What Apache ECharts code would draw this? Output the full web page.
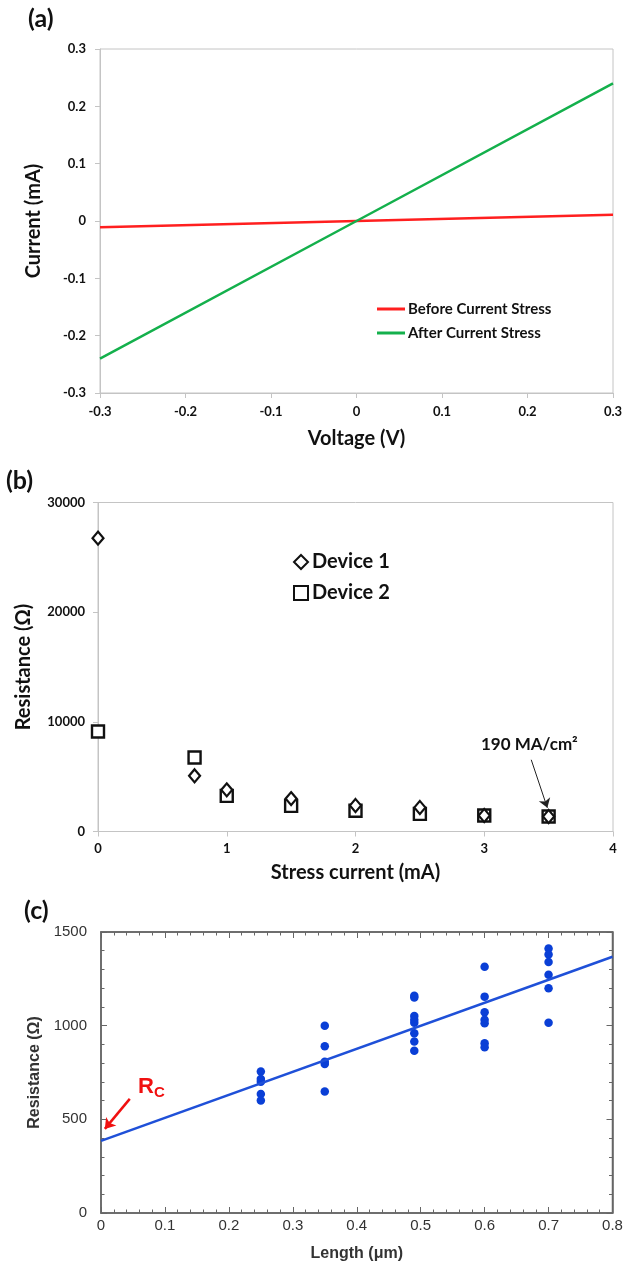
<!DOCTYPE html>
<html>
<head>
<meta charset="utf-8">
<script src="https://cdn.jsdelivr.net/npm/echarts@6/dist/echarts.min.js"></script>
<style>
  html, body { margin: 0; padding: 0; background: #fff; }
  #main { width: 625px; height: 1266px; }
</style>
</head>
<body>
<div id="main"></div>
<script>
// (a) I-V curves
var voltage = [-0.3, 0, 0.3];
var beforeStress = [-0.011, 0, 0.011];
var afterStress = [-0.24, 0, 0.24];

// (b) resistance vs stress current
var stressCurrent = [0, 0.75, 1, 1.5, 2, 2.5, 3, 3.5];
var device1 = [26750, 5080, 3800, 3000, 2370, 2190, 1460, 1370];
var device2 = [9120, 6750, 3250, 2340, 1890, 1610, 1460, 1370];
var arrowB = [[3.365, 6540], [3.49, 2160]];

// (c) resistance vs length (TLM)
var lengthUm = [0.25, 0.25, 0.25, 0.25, 0.25,
                0.35, 0.35, 0.35, 0.35, 0.35,
                0.49, 0.49, 0.49, 0.49, 0.49, 0.49, 0.49, 0.49,
                0.6, 0.6, 0.6, 0.6, 0.6, 0.6, 0.6,
                0.7, 0.7, 0.7, 0.7, 0.7, 0.7];
var resistance = [755, 715, 700, 635, 600,
                  1000, 890, 808, 795, 648,
                  1160, 1150, 1052, 1032, 1015, 960, 915, 866,
                  1315, 1155, 1072, 1032, 1013, 906, 885,
                  1412, 1380, 1340, 1272, 1200, 1016];
var fitLength = [0, 0.8];
var fitResistance = [385, 1368];
var arrowRc = [[0.045, 609], [0.006, 449]];

function pairs(xs, ys) {
  return xs.map(function (x, i) { return [x, ys[i]]; });
}

var myChart = echarts.init(document.getElementById('main'));

var boldFont = 'Lato, "Open Sans", sans-serif';
var armFont = '"Liberation Sans", Arial, sans-serif';
var dark = '#111';
var light = '#c4c4c4';

// excel-ish axes for (a) and (b)
function xlAxis(o) {
  return Object.assign({
    type: 'value',
    nameLocation: 'middle',
    nameTextStyle: { fontFamily: boldFont, fontWeight: 'bold', fontSize: 20, color: dark },
    axisLine: { show: true, onZero: false, lineStyle: { color: light, width: 1 } },
    axisTick: { show: true, length: 5, lineStyle: { color: light } },
    axisLabel: { fontFamily: boldFont, fontWeight: 'bold', fontSize: 13, color: dark },
    splitLine: { show: false }
  }, o);
}

// matlab-ish axes for (c)
function mlAxis(o) {
  return Object.assign({
    type: 'value',
    nameLocation: 'middle',
    nameTextStyle: { fontFamily: armFont, fontWeight: 'bold', fontSize: 16, color: '#333' },
    axisLine: { show: true, onZero: false, lineStyle: { color: '#666', width: 1.5 } },
    axisTick: { show: true, inside: true, length: 6, lineStyle: { color: '#666' } },
    minorTick: { show: true, splitNumber: 5, length: 3.5, lineStyle: { color: '#666' } },
    axisLabel: { fontFamily: armFont, fontSize: 15, color: '#333' },
    splitLine: { show: false }
  }, o);
}

var option = {
  animation: false,
  backgroundColor: '#fff',
  grid: [
    { left: 100, right: 12, top: 49, height: 344, show: true, borderColor: light, borderWidth: 1, outerBoundsMode: 'none' },
    { left: 98, right: 12, top: 502.5, height: 329, show: true, borderColor: light, borderWidth: 1, outerBoundsMode: 'none' },
    { left: 101, right: 12.5, top: 932, height: 281, show: true, borderColor: '#666', borderWidth: 1.5, outerBoundsMode: 'none' }
  ],
  xAxis: [
    xlAxis({ gridIndex: 0, min: -0.3, max: 0.3, interval: 0.1, name: 'Voltage (V)', nameGap: 36,
      axisLabel: { fontFamily: boldFont, fontWeight: 'bold', fontSize: 13, color: dark, margin: 12,
        formatter: function (v) { return String(+v.toFixed(1)); } } }),
    xlAxis({ gridIndex: 1, min: 0, max: 4, interval: 1, name: 'Stress current (mA)', nameGap: 31,
      axisLabel: { fontFamily: boldFont, fontWeight: 'bold', fontSize: 13, color: dark, margin: 11 } }),
    mlAxis({ gridIndex: 2, min: 0, max: 0.8, interval: 0.1, name: 'Length (\u03bcm)', nameGap: 33,
      axisLabel: { fontFamily: armFont, fontSize: 15, color: '#333', margin: 5,
        formatter: function (v) { return String(+v.toFixed(1)); } } }),
    mlAxis({ gridIndex: 2, min: 0, max: 0.8, interval: 0.1, position: 'top', axisLabel: { show: false } })
  ],
  yAxis: [
    xlAxis({ gridIndex: 0, min: -0.3, max: 0.3, interval: 0.1, name: 'Current (mA)', nameGap: 56,
      axisLabel: { fontFamily: boldFont, fontWeight: 'bold', fontSize: 13, color: dark, margin: 14,
        formatter: function (v) { return String(+v.toFixed(1)); } } }),
    xlAxis({ gridIndex: 1, min: 0, max: 30000, interval: 10000, name: 'Resistance (\u03a9)', nameGap: 64,
      axisLabel: { fontFamily: boldFont, fontWeight: 'bold', fontSize: 13, color: dark, margin: 13,
        formatter: function (v) { return String(v); } } }),
    mlAxis({ gridIndex: 2, min: 0, max: 1500, interval: 500, name: 'Resistance (\u03a9)', nameGap: 58,
      axisLabel: { fontFamily: armFont, fontSize: 15, color: '#333', margin: 14,
        formatter: function (v) { return String(v); } } }),
    mlAxis({ gridIndex: 2, min: 0, max: 1500, interval: 500, position: 'right', axisLabel: { show: false } })
  ],
  legend: [
    {
      data: ['Before Current Stress', 'After Current Stress'],
      orient: 'vertical', left: 372, top: 295, icon: 'rect',
      itemWidth: 28, itemHeight: 3, itemGap: 6,
      textStyle: { fontFamily: boldFont, fontWeight: 'bold', fontSize: 15, lineHeight: 18, color: dark, padding: [0, 0, 0, -2] }
    },
    {
      data: ['Device 1', 'Device 2'],
      orient: 'vertical', left: 288, top: 547,
      itemWidth: 14, itemHeight: 14, itemGap: 11,
      textStyle: { fontFamily: boldFont, fontWeight: 'bold', fontSize: 20, color: dark, padding: [0, 0, 0, -1] }
    }
  ],
  series: [
    {
      name: 'Before Current Stress', type: 'line', xAxisIndex: 0, yAxisIndex: 0,
      symbol: 'none', data: pairs(voltage, beforeStress),
      lineStyle: { color: '#ff1f1f', width: 2.5 }, itemStyle: { color: '#ff1f1f' }
    },
    {
      name: 'After Current Stress', type: 'line', xAxisIndex: 0, yAxisIndex: 0,
      symbol: 'none', data: pairs(voltage, afterStress),
      lineStyle: { color: '#14b04c', width: 2.5 }, itemStyle: { color: '#14b04c' }
    },
    {
      name: 'Device 2', type: 'scatter', xAxisIndex: 1, yAxisIndex: 1,
      symbol: 'rect', symbolSize: 12, data: pairs(stressCurrent, device2),
      itemStyle: { color: '#fff', borderColor: '#111', borderWidth: 2.4, opacity: 1 }
    },
    {
      name: 'Device 1', type: 'scatter', xAxisIndex: 1, yAxisIndex: 1,
      symbol: 'diamond', symbolSize: [11, 13], data: pairs(stressCurrent, device1),
      itemStyle: { color: '#fff', borderColor: '#111', borderWidth: 2.2, opacity: 1 },
      markLine: {
        silent: true, symbol: ['none', 'arrow'], symbolSize: 9,
        label: { show: false },
        lineStyle: { color: '#222', width: 1, type: 'solid' },
        data: [[{ coord: arrowB[0] }, { coord: arrowB[1] }]]
      }
    },
    {
      name: 'fit', type: 'line', xAxisIndex: 2, yAxisIndex: 2,
      symbol: 'none', data: pairs(fitLength, fitResistance),
      lineStyle: { color: '#1f50d8', width: 2.5 },
      markLine: {
        silent: true, symbol: ['none', 'arrow'], symbolSize: 10,
        label: { show: false },
        lineStyle: { color: '#f01010', width: 2.5, type: 'solid' },
        data: [[{ coord: arrowRc[0] }, { coord: arrowRc[1] }]]
      }
    },
    {
      name: 'measured', type: 'scatter', xAxisIndex: 2, yAxisIndex: 2,
      symbol: 'circle', symbolSize: 8.5, data: pairs(lengthUm, resistance),
      itemStyle: { color: '#0a3fd6', opacity: 1 }
    }
  ],
  graphic: [
    { type: 'text', left: 28, top: 6, style: { text: '(a)', font: 'bold 25px ' + boldFont, fill: dark } },
    { type: 'text', left: 6, top: 468, style: { text: '(b)', font: 'bold 25px ' + boldFont, fill: dark } },
    { type: 'text', left: 24, top: 898, style: { text: '(c)', font: 'bold 25px ' + boldFont, fill: dark } },
    { type: 'text', left: 481, top: 736, style: { text: '190 MA/cm\u00b2', font: 'bold 17px ' + boldFont, fill: dark } },
    {
      type: 'text', left: 138, top: 1076,
      style: {
        text: '{r|R}{s|C}',
        rich: {
          r: { fontFamily: armFont, fontWeight: 'bold', fontSize: 22, fill: '#f01010', lineHeight: 26 },
          s: { fontFamily: armFont, fontWeight: 'bold', fontSize: 15, fill: '#f01010', lineHeight: 15, verticalAlign: 'bottom' }
        }
      }
    }
  ]
};

myChart.setOption(option);
</script>
</body>
</html>
